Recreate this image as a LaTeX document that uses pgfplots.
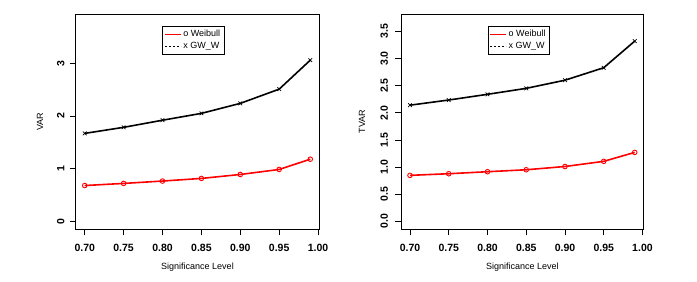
\documentclass[border=0pt]{standalone}
\usepackage{pgfplots}
\pgfplotsset{compat=1.18}
\usepackage{fontspec}
\setmainfont{Liberation Sans}
\begin{document}
\begin{tikzpicture}
\draw[white, line width=0pt] (0,0) rectangle (697bp,282bp);
\pgfplotsset{
  rstyle/.style={
    scale only axis, width=243.6bp, height=215.3bp,
    anchor=south west,
    xmin=0.6884, xmax=1.0016,
    axis line style={line width=0.8bp},
    tick style={line width=0.8bp, black},
    tick align=outside, major tick length=6bp,
    xtick pos=bottom, ytick pos=left,
    xtick={0.70,0.75,0.80,0.85,0.90,0.95,1.00},
    xticklabels={0.70,0.75,0.80,0.85,0.90,0.95,1.00},
    ticklabel style={font=\fontsize{10.5bp}{12bp}\selectfont\bfseries},
    xticklabel style={anchor=center, yshift=-12.5bp},
    yticklabel style={rotate=90, anchor=center},
    label style={font=\fontsize{9bp}{11bp}\selectfont},
    xlabel={Significance Level},
    xlabel style={at={(axis description cs:0.5,0)}, anchor=center, yshift=-37.7bp},
    legend style={font=\fontsize{9bp}{11bp}\selectfont, draw=black, line width=0.6bp,
      anchor=north west, inner sep=2bp, row sep=0.5bp, cells={anchor=west}},
    legend image code/.code={\draw[##1] (0bp,0bp) -- (16bp,0bp);},
    redline/.style={red, line width=1.6bp, mark=o, mark size=2.3bp, mark options={line width=0.9bp}},
    blackline/.style={black, line width=1.6bp, mark=x, mark size=2.6bp, mark options={line width=0.7bp}},
  }
}
\begin{axis}[rstyle, at={(75.7bp,52.7bp)},
  ymin=-0.151, ymax=3.937,
  ytick={0,1,2,3}, yticklabels={0,1,2,3},
  yticklabel style={yshift=9bp},
  ylabel={VAR},
  ylabel style={at={(axis description cs:-0.1466,0.5)}, anchor=center},
  legend style={at={(axis description cs:0.3555,0.9457)}},
]
\addplot[redline, forget plot] coordinates {(0.70,0.68) (0.75,0.72) (0.80,0.765) (0.85,0.815) (0.90,0.89) (0.95,0.985) (0.99,1.18)};
\addplot[blackline, forget plot] coordinates {(0.70,1.67) (0.75,1.785) (0.80,1.92) (0.85,2.05) (0.90,2.24) (0.95,2.51) (0.99,3.06)};
\addlegendimage{red, line width=0.8bp}
\addlegendentry{o Weibull}
\addlegendimage{black, line width=0.8bp, dash pattern=on 2bp off 2bp}
\addlegendentry{x GW\_W}
\end{axis}
\begin{axis}[rstyle, at={(401bp,52.7bp)}, width=242.7bp,
  ymin=-0.147, ymax=3.82,
  ytick={0,0.5,1,1.5,2,2.5,3,3.5}, yticklabels={0.0,0.5,1.0,1.5,2.0,2.5,3.0,3.5},
  yticklabel style={yshift=10.7bp},
  ylabel={TVAR},
  ylabel style={at={(axis description cs:-0.1607,0.5)}, anchor=center},
  legend style={at={(axis description cs:0.357,0.9457)}},
]
\addplot[redline, forget plot] coordinates {(0.70,0.847) (0.75,0.877) (0.80,0.914) (0.85,0.95) (0.90,1.01) (0.95,1.105) (0.99,1.27)};
\addplot[blackline, forget plot] coordinates {(0.70,2.14) (0.75,2.235) (0.80,2.34) (0.85,2.45) (0.90,2.60) (0.95,2.83) (0.99,3.32)};
\addlegendimage{red, line width=0.8bp}
\addlegendentry{o Weibull}
\addlegendimage{black, line width=0.8bp, dash pattern=on 2bp off 2bp}
\addlegendentry{x GW\_W}
\end{axis}
\end{tikzpicture}
\end{document}
